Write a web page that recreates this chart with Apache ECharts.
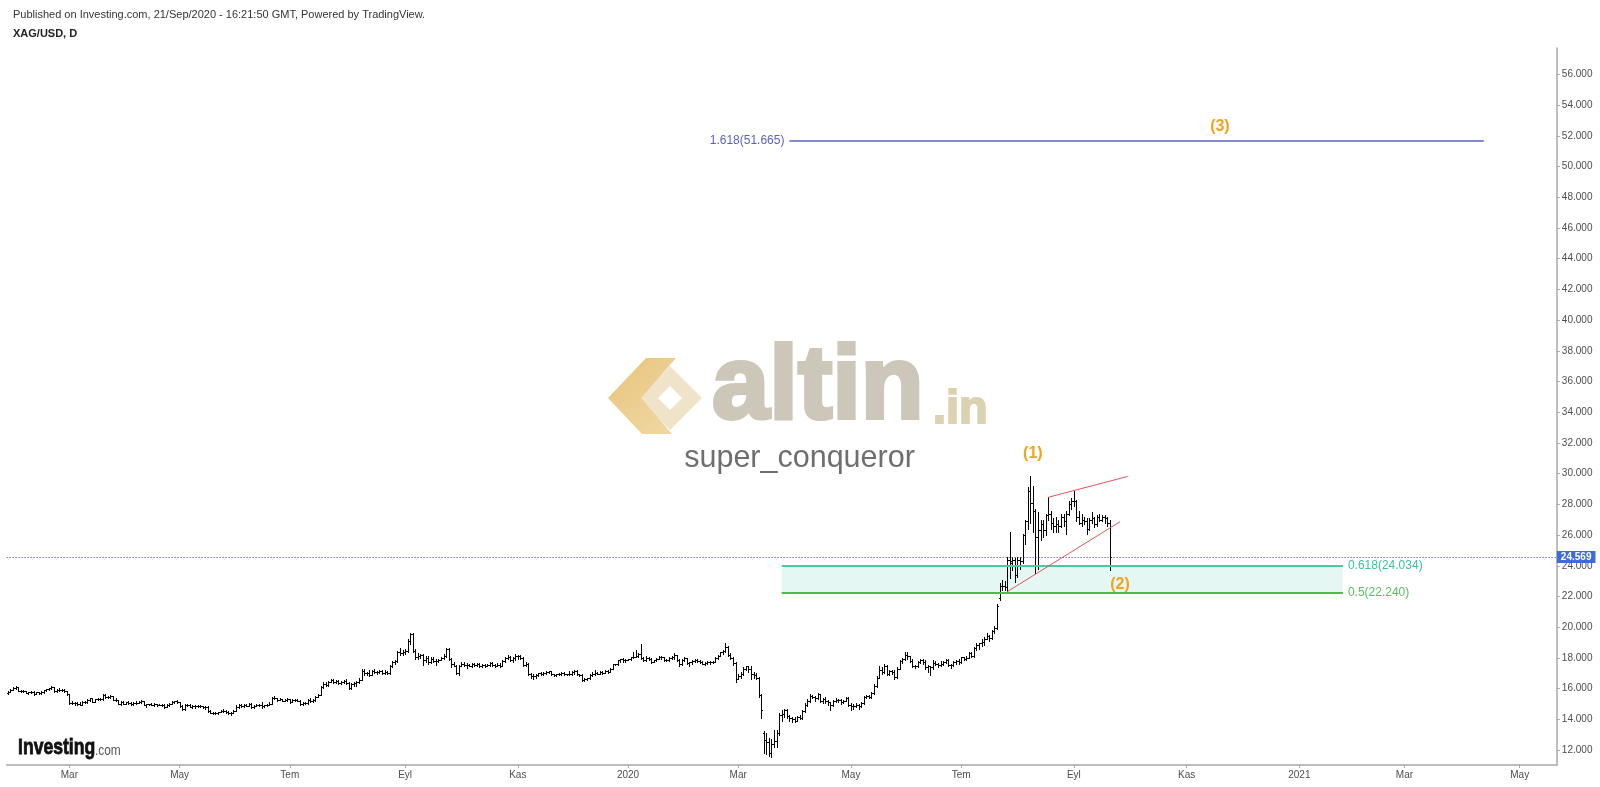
<!DOCTYPE html>
<html><head><meta charset="utf-8">
<script src="https://cdn.jsdelivr.net/npm/echarts@6.0.0/dist/echarts.min.js"></script>
<style>html,body{margin:0;padding:0;background:#fff;}#main{width:1600px;height:787px;}</style>
</head><body><div id="main"></div>
<script>
// Daily OHLC bars [open, high, low, close], XAG/USD, weekdays from 28 Jan 2019
const bars2019 = [
[15.72,15.85,15.66,15.78],[15.78,15.98,15.75,15.93],[15.93,16.12,15.88,16.05],[16.05,16.15,15.95,16.08],[16.08,16.10,15.84,15.86],
[15.86,15.92,15.78,15.83],[15.83,15.90,15.76,15.84],[15.84,15.86,15.70,15.74],[15.74,15.80,15.64,15.76],[15.76,15.85,15.70,15.80],
[15.80,15.82,15.60,15.64],[15.64,15.80,15.62,15.77],[15.77,15.80,15.64,15.69],[15.69,15.84,15.62,15.79],[15.79,15.92,15.74,15.89],
[15.89,15.99,15.86,15.95],[15.95,16.06,15.90,16.01],[16.01,16.20,15.98,16.10],[16.10,16.12,15.78,15.83],[15.83,15.97,15.80,15.93],
[15.93,16.05,15.85,15.90],[15.90,15.98,15.82,15.94],[15.94,15.98,15.78,15.82],[15.82,15.86,15.58,15.62],[15.62,15.66,15.02,15.08],
[15.08,15.20,14.98,15.05],[15.05,15.12,14.96,15.06],[15.06,15.12,14.95,15.02],[15.02,15.10,14.92,14.96],[14.96,15.18,14.94,15.12],
[15.12,15.16,15.04,15.10],[15.10,15.30,15.08,15.26],[15.26,15.40,15.22,15.36],[15.36,15.38,15.10,15.14],[15.14,15.34,15.12,15.30],
[15.30,15.40,15.25,15.32],[15.32,15.38,15.24,15.30],[15.30,15.62,15.26,15.56],[15.56,15.64,15.40,15.45],[15.45,15.52,15.36,15.44],
[15.44,15.56,15.38,15.50],[15.50,15.52,15.26,15.28],[15.28,15.36,15.18,15.24],[15.24,15.26,14.97,15.00],[15.00,15.16,14.96,15.10],
[15.10,15.16,14.98,15.02],[15.02,15.14,14.98,15.10],[15.10,15.16,15.00,15.06],[15.06,15.12,14.96,15.00],[15.00,15.14,14.96,15.08],
[15.08,15.16,15.02,15.08],[15.08,15.20,15.04,15.14],[15.14,15.28,15.08,15.20],[15.20,15.22,14.92,14.96],[14.96,15.02,14.80,14.98],
[14.98,15.02,14.92,14.98],[14.98,15.04,14.90,14.94],[14.94,15.04,14.86,15.00],[15.00,15.02,14.88,14.94],[14.94,14.98,14.90,14.96],
[14.96,15.00,14.88,14.96],[14.96,14.98,14.76,14.80],[14.80,14.98,14.78,14.94],[14.94,15.06,14.88,15.02],[15.02,15.20,14.98,15.12],
[15.12,15.18,15.06,15.16],[15.16,15.24,15.08,15.10],[15.10,15.14,14.80,14.84],[14.84,14.90,14.60,14.66],[14.66,14.98,14.62,14.92],
[14.92,15.00,14.84,14.94],[14.94,14.98,14.78,14.82],[14.82,14.96,14.76,14.84],[14.84,14.94,14.74,14.88],[14.88,14.96,14.80,14.88],
[14.88,14.96,14.78,14.86],[14.86,14.88,14.72,14.80],[14.80,14.86,14.70,14.80],[14.80,14.84,14.48,14.52],[14.52,14.60,14.38,14.40],
[14.40,14.46,14.34,14.40],[14.40,14.50,14.34,14.42],[14.42,14.50,14.36,14.48],[14.48,14.62,14.46,14.56],[14.56,14.64,14.48,14.52],
[14.52,14.58,14.44,14.50],[14.50,14.52,14.36,14.40],[14.40,14.46,14.28,14.44],[14.44,14.62,14.40,14.56],[14.56,14.90,14.52,14.82],
[14.82,14.98,14.76,14.90],[14.90,14.98,14.78,14.84],[14.84,15.00,14.80,14.96],[14.96,15.02,14.84,14.88],[14.88,15.08,14.86,15.02],
[15.02,15.04,14.76,14.80],[14.80,14.92,14.76,14.88],[14.88,14.98,14.84,14.92],[14.92,15.00,14.86,14.94],[14.94,15.12,14.76,14.86],
[14.86,14.94,14.80,14.90],[14.90,15.02,14.84,14.96],[14.96,15.12,14.90,15.02],[15.02,15.46,15.00,15.36],[15.36,15.52,15.30,15.38],
[15.38,15.40,15.22,15.28],[15.28,15.40,15.24,15.30],[15.30,15.34,15.16,15.22],[15.22,15.30,15.16,15.26],[15.26,15.38,15.22,15.30],
[15.30,15.32,15.06,15.12],[15.12,15.30,15.10,15.26],[15.26,15.34,15.20,15.28],[15.28,15.30,15.18,15.22],[15.22,15.26,14.96,15.02],
[15.02,15.12,14.96,15.08],[15.08,15.12,14.98,15.04],[15.04,15.32,15.00,15.28],[15.28,15.36,15.12,15.18],[15.18,15.30,15.14,15.24],
[15.24,15.50,15.22,15.46],[15.46,15.62,15.42,15.58],[15.58,16.18,15.56,16.12],[16.12,16.45,16.04,16.32],[16.32,16.40,16.14,16.24],
[16.24,16.48,16.18,16.42],[16.42,16.62,16.40,16.56],[16.56,16.62,16.38,16.44],[16.44,16.58,16.34,16.50],[16.50,16.56,16.30,16.36],
[16.36,16.48,16.30,16.42],[16.42,16.54,16.36,16.50],[16.50,16.60,16.28,16.34],[16.34,16.40,15.96,16.04],[16.04,16.36,16.00,16.28],
[16.28,16.44,16.18,16.36],[16.36,16.48,16.20,16.40],[16.40,16.66,16.34,16.58],[16.58,17.28,16.56,17.12],[17.12,17.30,16.90,17.04],
[17.04,17.10,16.86,17.00],[17.00,17.22,16.80,16.90],[16.90,17.24,16.86,17.16],[17.16,17.26,17.02,17.10],[17.10,17.14,16.96,17.06],
[17.06,17.18,17.00,17.14],[17.14,17.18,16.96,17.04],[17.04,17.18,16.96,17.10],[17.10,17.16,16.92,17.00],[17.00,17.56,16.98,17.50],
[17.50,17.80,17.42,17.70],[17.70,17.88,17.58,17.80],[17.80,18.48,17.76,18.40],[18.40,18.64,18.20,18.34],[18.34,18.52,18.20,18.36],
[18.36,18.56,18.28,18.46],[18.46,19.20,18.40,19.10],[19.10,19.65,18.92,19.56],[19.56,19.60,18.36,18.46],[18.46,18.60,17.92,18.08],
[18.08,18.32,17.96,18.12],[18.12,18.26,18.00,18.16],[18.16,18.24,17.54,17.86],[17.86,18.14,17.76,18.02],[18.02,18.12,17.62,17.70],
[17.70,18.08,17.66,17.96],[17.96,18.04,17.70,17.82],[17.82,17.96,17.52,17.80],[17.80,17.96,17.74,17.86],[17.86,18.04,17.84,18.00],
[18.00,18.26,17.96,18.12],[18.12,18.62,18.06,18.56],[18.56,18.62,17.86,17.92],[17.92,17.98,17.40,17.58],[17.58,17.72,17.46,17.50],
[17.50,17.56,16.96,17.02],[17.02,17.56,16.90,17.50],[17.50,17.70,17.46,17.58],[17.58,17.70,17.44,17.56],[17.56,17.66,17.36,17.52],
[17.52,17.62,17.44,17.50],[17.50,17.68,17.38,17.60],[17.60,17.64,17.46,17.52],[17.52,17.66,17.46,17.58],[17.58,17.66,17.42,17.46],
[17.46,17.62,17.42,17.54],[17.54,17.60,17.40,17.46],[17.46,17.62,17.44,17.56],[17.56,17.74,17.48,17.66],[17.66,17.70,17.46,17.52],
[17.52,17.60,17.42,17.50],[17.50,17.64,17.44,17.56],[17.56,17.64,17.42,17.48],[17.48,17.84,17.46,17.80],[17.80,18.06,17.74,18.00],
[18.00,18.16,17.90,18.06],[18.06,18.12,17.80,17.84],[17.84,18.04,17.74,17.98],[17.98,18.24,17.88,18.10],[18.10,18.20,17.92,18.12],
[18.12,18.18,17.96,18.02],[18.02,18.04,17.48,17.54],[17.54,17.72,17.46,17.62],[17.62,17.68,16.86,16.94],[16.94,17.02,16.72,16.84],
[16.84,16.92,16.64,16.82],[16.82,16.96,16.70,16.90],[16.90,17.04,16.84,17.00],[17.00,17.10,16.88,16.94],[16.94,17.06,16.86,17.04],
[17.04,17.14,16.96,17.08],[17.08,17.16,17.00,17.12],[17.12,17.14,16.88,16.92],[16.92,16.98,16.84,16.90],[16.90,16.98,16.82,16.92],
[16.92,17.04,16.86,16.96],[16.96,17.06,16.90,17.00],[17.00,17.06,16.88,16.94],[16.94,16.96,16.86,16.92],[16.92,17.16,16.88,16.94],
[16.94,17.14,16.90,17.08],[17.08,17.20,16.96,17.12],[17.12,17.20,16.90,16.96],[16.96,16.98,16.84,16.90],[16.90,16.92,16.52,16.58],
[16.58,16.68,16.50,16.62],[16.62,16.70,16.56,16.66],[16.66,16.94,16.60,16.88],[16.88,17.10,16.84,16.98],[16.98,17.18,16.90,17.02],
[17.02,17.10,16.92,16.98],[16.98,17.14,16.94,17.08],[17.08,17.14,16.98,17.04],[17.04,17.20,17.00,17.14],[17.14,17.18,17.02,17.10],
[17.10,17.34,17.08,17.30],[17.30,17.62,17.28,17.58],[17.58,17.62,17.52,17.58],[17.58,17.88,17.56,17.84],[17.84,17.96,17.72,17.90],
[17.90,17.98,17.76,17.86],[17.86,17.94,17.70,17.88]
];
const bars2020 = [
[17.88,17.92,17.84,17.90],[17.90,18.08,17.86,18.04],[18.04,18.40,17.98,18.06],
[18.06,18.50,18.04,18.14],[18.14,18.30,18.06,18.26],[18.26,18.90,17.92,18.02],[18.02,18.06,17.78,17.84],[17.84,18.10,17.80,18.02],
[18.02,18.08,17.86,17.96],[17.96,17.98,17.68,17.74],[17.74,17.88,17.70,17.84],[17.84,18.00,17.80,17.96],[17.96,18.10,17.90,18.04],
[18.04,18.10,17.96,18.06],[18.06,18.08,17.82,17.84],[17.84,17.94,17.80,17.86],[17.86,18.04,17.82,17.98],[17.98,18.10,17.90,18.06],
[18.06,18.32,17.96,18.16],[18.16,18.20,17.80,17.86],[17.86,17.92,17.50,17.58],[17.58,17.94,17.52,17.86],[17.86,18.06,17.78,17.98],
[17.98,18.00,17.60,17.66],[17.66,17.74,17.44,17.70],[17.70,17.86,17.62,17.80],[17.80,17.92,17.70,17.88],[17.88,17.94,17.76,17.82],
[17.82,17.86,17.66,17.74],[17.74,17.80,17.58,17.62],[17.62,17.70,17.52,17.66],[17.66,17.78,17.58,17.74],[17.74,17.82,17.62,17.72],
[17.72,17.78,17.66,17.72],[17.72,18.04,17.70,18.02],[18.02,18.20,17.96,18.14],[18.14,18.40,18.10,18.36],[18.36,18.52,18.28,18.48],
[18.48,18.94,18.36,18.72],[18.72,18.76,18.12,18.20],[18.20,18.34,17.92,18.02],[18.02,18.06,17.56,17.64],[17.64,17.74,16.44,16.62],
[16.62,16.92,16.60,16.80],[16.80,17.06,16.72,16.94],[16.94,17.40,16.90,17.30],[17.30,17.48,17.22,17.44],[17.44,17.44,17.10,17.30],
[17.30,17.50,16.64,16.94],[16.94,17.10,16.72,16.90],[16.90,17.04,16.60,16.66],[16.66,16.75,15.45,15.60],[15.60,15.62,14.10,14.60],
[13.10,13.22,11.80,12.62],[12.62,13.10,11.72,12.50],[12.50,12.80,11.60,11.78],[11.78,12.70,11.56,12.40],[12.40,13.30,12.20,12.60],
[12.60,13.28,12.22,13.10],[13.10,14.40,13.00,14.30],[14.30,14.62,13.92,14.36],[14.36,14.70,14.12,14.60],[14.60,14.64,14.10,14.20],
[14.20,14.30,13.86,14.06],[14.06,14.16,13.84,14.00],[14.00,14.12,13.80,13.92],[13.92,14.24,13.86,14.18],[14.18,14.30,14.00,14.10],
[14.10,14.60,14.04,14.56],[14.56,15.04,14.50,14.96],[14.96,15.30,14.86,15.20],[15.20,15.66,15.10,15.50],[15.50,15.60,15.40,15.48],
[15.48,15.52,15.16,15.40],[15.40,15.74,15.30,15.64],[15.64,15.66,15.10,15.18],[15.18,15.36,15.06,15.32],[15.32,15.42,15.08,15.20],
[15.20,15.24,14.92,15.10],[15.10,15.14,14.60,14.90],[14.90,15.24,14.86,15.16],[15.16,15.40,15.10,15.28],[15.28,15.34,15.12,15.26],
[15.26,15.30,15.02,15.10],[15.10,15.28,15.04,15.22],[15.22,15.44,15.16,15.36],[15.36,15.44,14.88,14.96],[14.96,15.04,14.60,14.88],
[14.88,14.98,14.64,14.86],[14.86,15.04,14.80,14.94],[14.94,14.98,14.70,14.86],[14.86,15.12,14.80,15.06],[15.06,15.52,15.02,15.48],
[15.48,15.60,15.36,15.50],[15.50,15.58,15.38,15.46],[15.46,15.78,15.40,15.70],[15.70,16.30,15.64,16.14],[16.14,16.84,16.08,16.72],
[16.72,17.50,16.70,17.20],[17.20,17.42,16.96,17.10],[17.10,17.60,17.04,17.46],[17.46,17.52,16.86,16.96],[16.96,17.20,16.88,17.16],
[17.16,17.22,16.96,17.06],[17.06,17.20,16.60,16.78],[16.78,17.40,16.70,17.30],[17.30,17.86,17.26,17.80],[17.80,18.02,17.64,17.96],
[17.96,18.36,17.86,18.22],[18.22,18.40,17.92,18.10],[18.10,18.14,17.70,17.80],[17.80,17.96,17.40,17.50],[17.50,17.56,17.32,17.44],
[17.44,17.80,17.40,17.74],[17.74,17.96,17.66,17.86],[17.86,17.94,17.60,17.70],[17.70,17.84,17.30,17.40],[17.40,17.56,17.06,17.48],
[17.48,17.50,16.90,17.40],[17.40,17.86,17.30,17.64],[17.64,17.78,17.52,17.60],[17.60,17.66,17.40,17.52],[17.52,17.80,17.44,17.60],
[17.60,17.80,17.56,17.74],[17.74,17.92,17.66,17.86],[17.86,17.90,17.46,17.52],[17.52,17.62,17.34,17.56],[17.56,17.80,17.50,17.74],
[17.74,17.86,17.62,17.80],[17.80,17.92,17.60,17.70],[17.70,18.08,17.64,18.04],[18.04,18.08,17.86,17.92],[17.92,18.10,17.86,18.02],
[18.02,18.36,17.98,18.30],[18.30,18.40,18.04,18.12],[18.12,18.68,18.08,18.62],[18.62,18.96,18.50,18.86],[18.86,19.00,18.60,18.96],
[18.96,19.20,18.80,19.04],[19.04,19.34,18.86,19.26],[19.26,19.60,19.20,19.42],[19.42,19.48,19.08,19.30],[19.30,19.80,19.26,19.72],
[19.72,20.10,19.60,19.96],[19.96,21.50,19.90,21.40],[21.90,22.90,21.80,22.70],[22.70,23.10,22.40,22.70],[22.70,23.04,22.40,22.60],
[22.60,24.60,22.30,24.40],[24.40,26.20,23.20,24.20],[24.30,24.60,23.70,24.40],[24.40,24.52,22.96,23.40],[23.40,24.56,23.30,24.40],
[24.40,24.60,23.80,24.30],[24.30,26.04,24.20,25.98],[25.98,27.00,25.40,26.90],[26.90,29.10,26.40,28.90],[28.90,29.86,26.80,28.10],
[28.10,29.20,26.20,27.60],[27.60,27.70,23.50,25.90],[25.90,27.50,23.80,26.30],[26.30,27.00,25.70,26.70],[26.70,27.00,25.90,26.30],
[26.30,27.40,26.00,27.30],[27.30,28.50,27.00,27.40],[27.40,27.56,26.40,26.80],[26.80,27.10,26.20,26.60],[26.60,27.20,26.20,26.70],
[26.70,27.00,26.20,26.60],[26.60,27.40,26.50,27.20],[27.20,27.40,26.60,26.90],[26.90,27.60,26.10,27.40],[27.40,28.20,27.30,28.00],
[28.00,28.40,27.70,28.20],[28.20,28.90,27.90,28.20],[28.20,28.30,26.90,27.20],[27.20,27.60,26.70,26.80],[26.80,27.40,26.60,27.00],
[27.00,27.20,26.70,26.90],[26.90,27.10,26.10,26.40],[26.40,27.10,26.30,27.00],[27.00,27.50,26.80,27.10],[27.10,27.20,26.50,26.70],
[26.70,27.30,26.60,27.20],[27.20,27.40,26.90,27.00],[27.00,27.30,26.90,27.20],[27.20,27.30,26.80,27.10],[27.10,27.20,26.60,26.80],
[26.80,27.00,23.70,24.57]
];

const monthLabels = ['Oca','Şub','Mar','Nis','May','Haz','Tem','Ağu','Eyl','Eki','Kas','Ara'];
const yTicks = [12,14,16,18,20,22,24,26,28,30,32,34,36,38,40,42,44,46,48,50,52,54,56];
const lastPrice = 24.569;
const retraceLevels = [24.034, 22.240];
const retraceNames = ['0.618(24.034)', '0.5(22.240)'];
const retraceSpan = [302, 521];           // bar indexes of the fib tool
const extLevel = 51.665;
const extName = '1.618(51.665)';
const extSpan = [305, 576];
const wedgeUpper = [[406, 28.46], [437, 29.82]];
const wedgeLower = [[390, 22.31], [434, 26.87]];
const waveNames = ['(1)', '(2)', '(3)'];
const waveIdx = [400, 434, 473];
const waveVal = [31.28, 22.77, 52.62];

// categories: every weekday from 28 Jan 2019 to 21 May 2021
const categories = [];
for (let t = Date.UTC(2019, 0, 28); categories.length < 605; t += 86400000) {
  const d = new Date(t); const wd = d.getUTCDay();
  if (wd === 0 || wd === 6) continue;
  categories.push(d.toISOString().slice(0, 10));
}
const bars = bars2019.concat(bars2020);
const ohlcData = bars.map((b, i) => [i, b[0], b[1], b[2], b[3]]);

function isLabelCat(idx) {
  if (idx <= 0) return false;
  const m = +categories[idx].slice(5, 7) - 1;
  const pm = +categories[idx - 1].slice(5, 7) - 1;
  return m !== pm && m % 2 === 0;
}

const FONT = "'Liberation Sans', Arial, sans-serif";
const chart = echarts.init(document.getElementById('main'), null, {renderer: 'canvas'});

const option = {
  animation: false,
  backgroundColor: '#ffffff',
  textStyle: {fontFamily: FONT},
  grid: {left: 6.62, right: 43.13, top: 48, bottom: 22, containLabel: false},
  xAxis: {
    type: 'category', data: categories, boundaryGap: true,
    axisLine: {show: true, lineStyle: {color: '#a8a8a8', width: 1.5}},
    axisTick: {show: true, alignWithLabel: true, length: 3, interval: (i) => isLabelCat(i), lineStyle: {color: '#a8a8a8'}},
    axisLabel: {
      interval: (i) => isLabelCat(i), color: '#4d4d4d', fontSize: 10, margin: 5, fontFamily: FONT,
      formatter: (v) => { const m = +v.slice(5, 7) - 1; return m === 0 ? v.slice(0, 4) : monthLabels[m]; }
    },
    splitLine: {show: false}
  },
  yAxis: {
    type: 'value', position: 'right', min: 11.023, max: 57.726, scale: true,
    axisLine: {show: true, lineStyle: {color: '#a8a8a8', width: 1.5}},
    axisTick: {show: true, length: 3, customValues: yTicks, lineStyle: {color: '#a8a8a8'}},
    axisLabel: {show: true, customValues: yTicks, color: '#4d4d4d', fontSize: 10, margin: 5, fontFamily: FONT,
      formatter: (v) => v.toFixed(3)},
    splitLine: {show: false}
  },
  series: [
    {
      type: 'line', data: [], z: 1, silent: true,
      markArea: {
        silent: true,
        itemStyle: {color: 'rgba(40, 190, 150, 0.12)'},
        data: [[{coord: [retraceSpan[0], retraceLevels[0]]}, {coord: [retraceSpan[1], retraceLevels[1]]}]]
      },
      markLine: {
        silent: true, symbol: ['none', 'none'],
        data: [
          [{coord: [retraceSpan[0], retraceLevels[0]], lineStyle: {color: '#3ccf9f', width: 2, type: 'solid'},
            label: {show: true, position: 'end', formatter: retraceNames[0], color: '#3cc29c', fontSize: 12, distance: 5}},
           {coord: [retraceSpan[1], retraceLevels[0]]}],
          [{coord: [retraceSpan[0], retraceLevels[1]], lineStyle: {color: '#4cbb4c', width: 2, type: 'solid'},
            label: {show: true, position: 'end', formatter: retraceNames[1], color: '#5cc05c', fontSize: 12, distance: 5}},
           {coord: [retraceSpan[1], retraceLevels[1]]}],
          [{coord: [extSpan[0], extLevel], lineStyle: {color: '#5a5fc2', width: 1.5, type: 'solid'},
            label: {show: true, position: 'start', formatter: extName, color: '#5a5fc2', fontSize: 12, distance: 5}},
           {coord: [extSpan[1], extLevel]}],
          [{coord: wedgeUpper[0], lineStyle: {color: '#e0555f', width: 1, type: 'solid'}, label: {show: false}},
           {coord: wedgeUpper[1]}],
          [{coord: wedgeLower[0], lineStyle: {color: '#e0555f', width: 1, type: 'solid'}, label: {show: false}},
           {coord: wedgeLower[1]}],
          {yAxis: lastPrice, lineStyle: {color: '#3b3b9e', width: 1, type: [1, 2]},
           label: {show: true, position: 'end', formatter: lastPrice.toFixed(3), color: '#ffffff', fontSize: 10,
                   fontWeight: 'bold', backgroundColor: '#3d6cd9', padding: [1, 4, 1, 4], distance: 0}}
        ]
      },
      markPoint: {
        silent: true, symbol: 'rect', symbolSize: 1,
        itemStyle: {color: 'rgba(0,0,0,0)'},
        label: {show: true, position: 'inside', formatter: '{b}', color: '#f2a31b', fontSize: 16, fontWeight: 'bold'},
        data: waveNames.map((n, k) => ({name: n, coord: [waveIdx[k], waveVal[k]]}))
      }
    },
    {
      type: 'custom', z: 2, clip: true,
      data: ohlcData,
      encode: {x: 0, y: [1, 2, 3, 4]},
      renderItem: function (params, api) {
        const i = api.value(0);
        const o = api.coord([i, api.value(1)]);
        const h = api.coord([i, api.value(2)]);
        const l = api.coord([i, api.value(3)]);
        const c = api.coord([i, api.value(4)]);
        const cx = Math.round(o[0]) + 0.5;
        const yo = Math.round(o[1]) + 0.5, yc = Math.round(c[1]) + 0.5;
        const st = {stroke: '#000000', lineWidth: 1};
        return {type: 'group', children: [
          {type: 'line', shape: {x1: cx, y1: Math.round(h[1]), x2: cx, y2: Math.round(l[1]) + 1}, style: st},
          {type: 'line', shape: {x1: cx - 1.5, y1: yo, x2: cx - 0.5, y2: yo}, style: st},
          {type: 'line', shape: {x1: cx + 0.5, y1: yc, x2: cx + 1.5, y2: yc}, style: st}
        ]};
      }
    }
  ],
  graphic: [
    {type: 'text', x: 13, y: 14.5, silent: true, style: {text: 'Published on Investing.com, 21/Sep/2020 - 16:21:50 GMT, Powered by TradingView.', font: "11px " + FONT, fill: '#333333', verticalAlign: 'middle'}},
    {type: 'text', x: 13, y: 34, silent: true, style: {text: 'XAG/USD, D', font: "bold 11px " + FONT, fill: '#222222', verticalAlign: 'middle'}},
    // watermark logo
    {type: 'polygon', silent: true, z: -1, shape: {points: [[670,366],[702,398],[670,430],[638,398]]}, style: {fill: '#efe4c9'}},
    {type: 'polygon', silent: true, z: -1, shape: {points: [[670,386],[682,398],[670,410],[658,398]]}, style: {fill: '#ffffff'}},
    {type: 'polygon', silent: true, z: -1, shape: {points: [[646,358],[676,358],[641,398],[672,434],[642,434],[608,398]]},
      style: {fill: new echarts.graphic.LinearGradient(0, 0, 1, 1, [{offset: 0, color: '#e8c47c'}, {offset: 1, color: '#f0d8a4'}])}},
    {type: 'text', x: 712, y: 390, silent: true, z: -1, style: {text: 'altin', font: "bold 103px " + FONT, fill: '#cdc7ba', stroke: '#cdc7ba', lineWidth: 4, verticalAlign: 'middle'}},
    {type: 'text', x: 933, y: 410, silent: true, z: -1, style: {text: '.in', font: "bold 47px " + FONT, fill: '#dcd2b2', stroke: '#dcd2b2', lineWidth: 2, verticalAlign: 'middle'}},
    {type: 'text', x: 799.5, y: 459, silent: true, z: -1, style: {text: 'super_conqueror', font: "30.5px " + FONT, fill: '#6e6e6e', align: 'center', verticalAlign: 'middle'}},
    // Investing.com logo
    {type: 'text', x: 18, y: 748, scaleX: 0.8, silent: true, style: {text: 'Investing', font: "bold 22px " + FONT, fill: '#111111', stroke: '#111111', lineWidth: 0.8, verticalAlign: 'middle'}},
    {type: 'text', x: 95, y: 751, scaleX: 0.85, silent: true, style: {text: '.com', font: "14px " + FONT, fill: '#555555', verticalAlign: 'middle'}}
  ]
};
chart.setOption(option);
</script>
</body></html>
